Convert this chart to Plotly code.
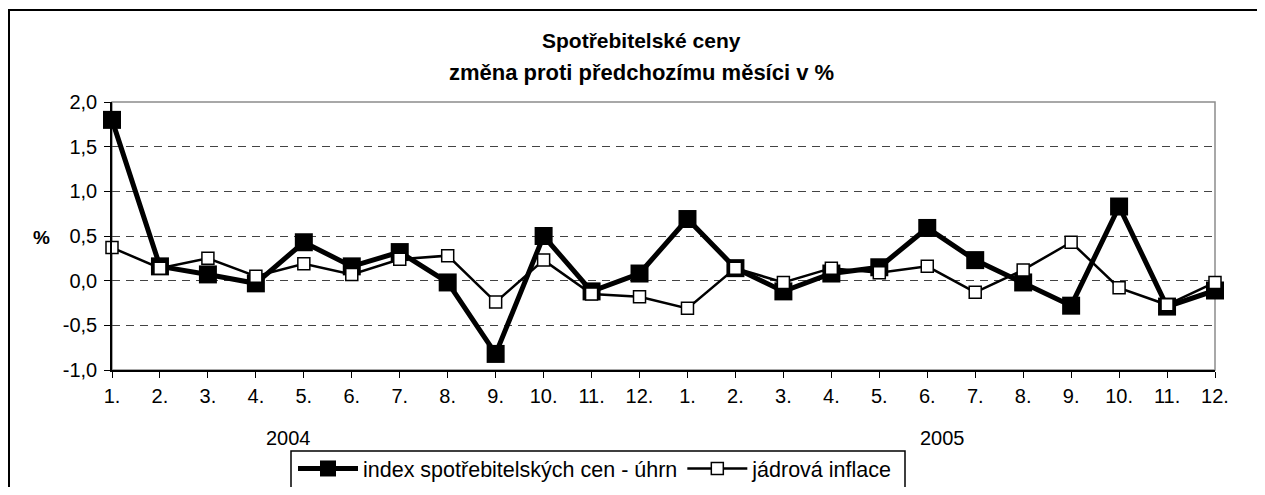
import plotly.graph_objects as go

# ---- data ----
months = ["1.", "2.", "3.", "4.", "5.", "6.", "7.", "8.", "9.", "10.", "11.", "12.",
          "1.", "2.", "3.", "4.", "5.", "6.", "7.", "8.", "9.", "10.", "11.", "12."]
years = ["2004", "2005"]
cpi_total = [1.80, 0.16, 0.07, -0.03, 0.43, 0.16, 0.32, -0.02, -0.82, 0.50, -0.12, 0.08,
             0.69, 0.14, -0.12, 0.08, 0.15, 0.59, 0.23, -0.02, -0.28, 0.83, -0.29, -0.11]
core_infl = [0.37, 0.14, 0.25, 0.05, 0.19, 0.07, 0.24, 0.28, -0.24, 0.23, -0.15, -0.18,
             -0.31, 0.14, -0.02, 0.14, 0.09, 0.16, -0.13, 0.12, 0.43, -0.08, -0.27, -0.02]
y_ticks = [-1.0, -0.5, 0.0, 0.5, 1.0, 1.5, 2.0]
y_tick_labels = ["-1,0", "-0,5", "0,0", "0,5", "1,0", "1,5", "2,0"]
name_cpi = "index spotřebitelských cen - úhrn"
name_core = "jádrová inflace"
title1 = "Spotřebitelské ceny"
title2 = "změna proti předchozímu měsíci v %"

x_pos = list(range(len(months)))

FONT = "Liberation Sans, Arial, sans-serif"
OFF = 8  # page body margin
W, H = 1265 - 2 * OFF, 495 - 2 * OFF
L = 112 - OFF
T = 102 - OFF
R = W - (1215 - OFF)
B = H - (370 - OFF)
PW, PH = W - L - R, H - T - B


def px(xs):
    """screen x pixel -> paper x"""
    return (xs - OFF - L) / PW


def py(ys):
    """screen y pixel -> paper y"""
    return (H - B - (ys - OFF)) / PH


fig = go.Figure()
fig.add_trace(go.Scatter(
    x=x_pos, y=cpi_total, name=name_cpi, mode="lines+markers",
    line=dict(color="black", width=5),
    marker=dict(symbol="square", size=18, color="black"),
    cliponaxis=False,
))
fig.add_trace(go.Scatter(
    x=x_pos, y=core_infl, name=name_core, mode="lines+markers",
    line=dict(color="black", width=2.5),
    marker=dict(symbol="square", size=12, color="white", line=dict(color="black", width=1.5)),
    cliponaxis=False,
))

shapes = [
    # outer chart frame
    dict(type="rect", xref="paper", yref="paper", x0=px(9), x1=px(1400), y0=py(600), y1=py(10),
         line=dict(color="black", width=2), layer="below"),
    # plot-area border (grey)
    dict(type="rect", xref="paper", yref="paper", x0=0, x1=1, y0=0, y1=1,
         line=dict(color="#8c8c8c", width=1.5), layer="below"),
    # legend frame
    dict(type="rect", xref="paper", yref="paper", x0=px(291), x1=px(905), y0=py(600), y1=py(451),
         line=dict(color="black", width=1.5), layer="below"),
]

annotations = [
    dict(text="<b>" + title1 + "</b>", xref="paper", yref="paper", x=px(641), y=py(41),
         xanchor="center", yanchor="middle", showarrow=False, font=dict(family=FONT, size=21, color="black")),
    dict(text="<b>" + title2 + "</b>", xref="paper", yref="paper", x=px(641), y=py(72),
         xanchor="center", yanchor="middle", showarrow=False, font=dict(family=FONT, size=22, color="black")),
    dict(text="<b>%</b>", xref="paper", yref="paper", x=px(41), y=py(237),
         xanchor="center", yanchor="middle", showarrow=False, font=dict(family=FONT, size=19, color="black")),
    dict(text=years[0], xref="paper", yref="paper", x=px(288), y=py(438),
         xanchor="center", yanchor="middle", showarrow=False, font=dict(family=FONT, size=20, color="black")),
    dict(text=years[1], xref="paper", yref="paper", x=px(942), y=py(438),
         xanchor="center", yanchor="middle", showarrow=False, font=dict(family=FONT, size=20, color="black")),
]

fig.update_layout(
    width=W, height=H,
    margin=dict(l=L, r=R, t=T, b=B, pad=0, autoexpand=False),
    paper_bgcolor="white", plot_bgcolor="white",
    separators=", ",
    font=dict(family=FONT, size=20, color="black"),
    showlegend=True,
    legend=dict(orientation="h", x=px(293), xanchor="left", y=py(448), yanchor="top",
                font=dict(family=FONT, size=21.5, color="black"),
                bgcolor="rgba(0,0,0,0)", borderwidth=0, itemwidth=60,
                traceorder="normal", tracegroupgap=0),
    shapes=shapes,
    annotations=annotations,
)

fig.update_xaxes(
    range=[0, len(months) - 1], tickmode="array", tickvals=x_pos, ticktext=months,
    showgrid=False, zeroline=False, showline=True, linecolor="black", linewidth=1.5,
    ticks="outside", ticklen=6, tickcolor="black", tickwidth=1, ticklabelstandoff=1,
    tickfont=dict(family=FONT, size=20, color="black"),
)
fig.update_yaxes(
    range=[-1, 2], tickmode="array", tickvals=y_ticks, ticktext=y_tick_labels,
    showgrid=True, gridcolor="#444444", gridwidth=1, griddash="8px,6px",
    zeroline=False, showline=True, linecolor="black", linewidth=1.5,
    ticks="outside", ticklen=6, tickcolor="black", tickwidth=1, ticklabelstandoff=3,
    tickfont=dict(family=FONT, size=20, color="black"),
)

fig.write_html("out.html")
